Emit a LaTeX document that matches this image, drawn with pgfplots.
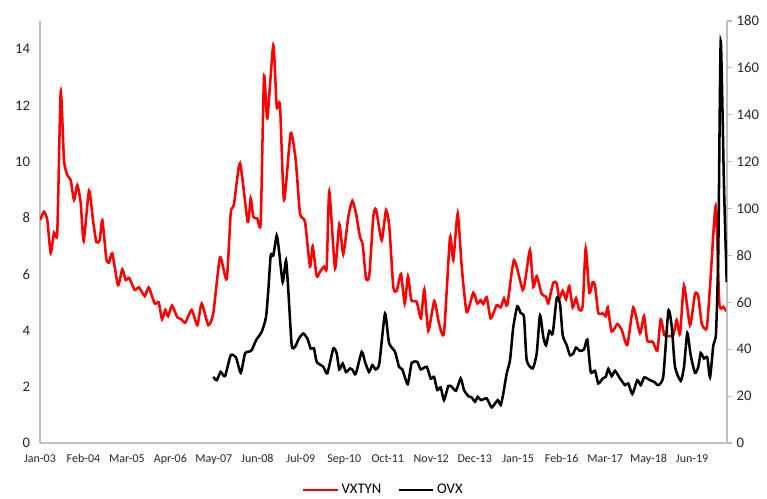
\documentclass[border=0pt]{standalone}
\usepackage{fontspec}
\setmainfont{Carlito}
\usepackage{pgfplots}
\pgfplotsset{compat=1.18}
\definecolor{axgray}{RGB}{191,191,191}
\begin{document}
\begin{tikzpicture}
\pgfplotsset{
  every axis/.append style={
    scale only axis, width=515.25pt, height=316.5pt,
    xmin=0, xmax=687,
    /pgf/number format/assume math mode=true,
    axis line style={axgray, line width=0.9pt},
  }
}
\begin{axis}[name=ax,
  ymin=0, ymax=15,
  axis x line*=bottom, axis y line*=left,
  ytick={0,2,...,14},
  xtick={0,43.47,86.94,130.41,173.88,217.35,260.82,304.29,347.76,391.23,434.7,478.17,521.64,565.11,608.58,652.05},
  xticklabels={Jan-03,Feb-04,Mar-05,Apr-06,May-07,Jun-08,Jul-09,Sep-10,Oct-11,Nov-12,Dec-13,Jan-15,Feb-16,Mar-17,May-18,Jun-19},
  major tick length=0pt,
  yticklabel style={font=\fontsize{11}{13}\selectfont, xshift=-4pt, text=black!85},
  xticklabel style={font=\fontsize{9}{11}\selectfont, yshift=-5pt, text=black!85},
]
\addplot[red, line width=1.9pt, smooth, tension=0.35] table {
0 7.92
4 8.22
7.3 7.92
10.7 6.75
14 7.47
17.3 7.51
20.7 12.48
24 10.06
27.3 9.52
30.7 9.35
34 8.64
37.3 9.17
40.7 8.53
43.7 7.19
49 8.97
53 7.92
56.3 7.15
59.7 7.21
62.3 7.92
66.3 6.56
69 6.41
72.3 6.74
78 5.61
82.3 6.17
85.7 5.79
89 5.87
94.7 5.44
99 5.53
104.7 5.22
108.7 5.53
114.7 4.96
118.7 5.00
122 4.40
125.3 4.73
128 4.51
132 4.88
137.3 4.47
141.3 4.40
145.3 4.28
151.7 4.73
157.3 4.19
161.7 4.96
168.3 4.19
173.3 4.61
180 6.60
186.7 5.82
190.7 8.16
194 8.49
200 9.94
207.7 7.86
210.7 8.70
213.3 8.04
217.3 7.98
220.7 7.86
224 13.02
227.3 11.54
233.3 14.14
236.7 11.95
240 12.01
244 8.64
250.7 11.01
255.7 10.06
260 8.16
265 7.86
270 6.27
272.7 6.98
276.7 5.93
280 6.09
284 6.27
286.7 6.24
289.3 8.93
295 6.21
299.3 7.78
303.3 6.71
308.3 8.04
312.3 8.61
316 8.16
320 7.33
322.7 7.04
326 5.85
329.3 5.97
333.3 8.04
336 8.30
341.7 7.21
346 8.28
349.3 7.69
353.3 5.55
356.7 5.41
361 6.01
364.7 4.96
368 5.93
371.3 5.08
376.7 5.02
381 4.43
384.3 5.46
388.3 3.99
394.3 5.05
399 4.25
404 3.92
410 7.31
413.3 6.50
417.7 8.16
421.7 6.27
426.7 4.65
433.3 5.34
437.3 4.96
440.7 5.08
443.3 4.94
446.7 5.18
450.7 4.43
456.7 4.90
460.7 4.82
464 5.14
467.3 4.90
474 6.50
482.7 5.44
486 5.97
490 6.86
493.3 5.55
496.7 5.93
501.7 5.30
506 5.20
508.3 4.96
513.3 5.70
516.7 5.67
519.3 5.14
522.7 5.41
526 5.11
529.3 5.58
532.7 4.82
536 5.14
539.3 4.73
542.7 4.87
545.7 6.92
549.3 5.34
552.7 5.72
555 5.61
558.3 4.63
562.7 4.61
565.7 4.51
567.7 4.82
571.7 3.96
577.3 4.23
581.7 4.02
587.3 3.48
593.3 4.82
600 3.90
604 4.51
607.3 3.64
612.7 3.60
617.3 3.28
620.7 4.40
624.3 3.84
628.3 3.80
633.3 3.84
636.7 4.37
640 3.87
644 5.59
650 4.19
655 5.30
658.3 5.22
661.7 4.25
666.7 4.08
670 5.55
675.7 8.42
679.3 4.96
683.3 4.84
686.7 4.67
};
\end{axis}
\begin{axis}[
  ymin=0, ymax=180,
  axis x line=none, axis y line*=right,
  ytick={0,20,...,180},
  tick align=outside, major tick length=3.75pt,
  ytick style={axgray, line width=0.9pt},
  yticklabel style={font=\fontsize{11}{13}\selectfont, text=black!85},
  legend style={at={(0.5,-0.111)}, anchor=center, draw=none, fill=none,
    legend columns=2, font=\fontsize{11}{13}\selectfont,
    /tikz/every even column/.append style={column sep=10pt}},
  legend image code/.code={\draw[#1] (0pt,0pt) -- (26pt,0pt);},
]
\addlegendimage{red, line width=1.9pt}
\addlegendentry{VXTYN}
\addplot[black, line width=1.9pt, smooth, tension=0.35] table {
173.3 28.2
176.7 26.8
180.7 30.3
185 28.5
190.7 37.4
196 36.5
200.7 29.9
205 38.2
208.3 38.9
211.7 39.6
216 43.8
221.7 47.4
226 53.7
228.3 65.1
230.7 80.0
233.3 80.0
236.7 88.5
239 82.1
242.7 68.6
246 77.9
248.3 65.1
251.7 41.7
255 41.0
259 44.6
263.3 46.7
267.3 44.6
270.7 40.3
274 40.3
276.7 34.6
283.3 32.5
287.3 29.7
293.3 40.3
296.7 38.2
299.3 31.4
302.7 33.9
306 30.3
310 31.8
312.7 31.1
315.7 29.4
321.7 38.9
325 34.6
329 30.3
332.3 33.2
335.7 31.4
339.3 33.9
345 55.2
349 42.7
355 38.9
359 32.5
362.3 31.4
367.7 25.1
371.7 34.2
377.3 34.6
380.7 31.4
386.7 32.5
390.7 27.5
394 28.2
397.3 22.6
400.7 23.7
404 18.3
408.3 24.3
411.7 24.0
416 22.3
420.7 27.5
424 22.6
428.3 20.0
431.7 19.4
435 17.6
437.7 19.7
441 18.3
446.7 19.0
451.7 15.2
457.7 18.3
460.7 16.2
463.3 21.1
466.7 29.7
470 35.3
473.3 49.5
477.3 58.3
480.7 55.4
484 53.7
486.7 35.3
492.7 31.8
496.7 38.2
500 54.5
503.3 45.2
506 41.7
509.3 47.8
512.7 46.7
516.7 61.8
520 59.4
522.7 46.0
526.7 41.7
530 37.4
533.3 38.2
536 40.7
540 39.3
544 39.9
547.3 44.1
550.7 30.3
555 30.8
558.3 25.4
562.7 27.5
565.7 28.2
568.3 31.6
571.7 28.5
575 30.8
580 27.5
585 24.7
588.3 25.4
592.3 20.9
597.3 26.8
600.7 24.7
604.3 28.0
610 26.8
614 26.1
618.3 24.7
623.3 28.5
628.3 56.3
631.7 49.8
635 32.5
640.7 26.5
644 32.5
647.3 46.9
650.7 37.4
655 29.9
658.3 32.5
660.7 38.4
664 36.0
667.3 36.5
670 28.0
673.3 41.7
676 46.9
678.3 82.1
680.7 171.5
684 109.1
686.7 68.6
};
\addlegendentry{OVX}
\end{axis}
\pgfresetboundingbox
\path[use as bounding box] ([xshift=-30pt,yshift=-42pt]ax.south west) rectangle ([xshift=30pt,yshift=15.75pt]ax.north east);
\end{tikzpicture}
\end{document}
